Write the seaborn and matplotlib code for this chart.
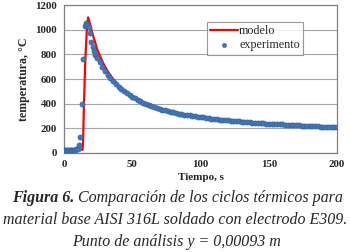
import matplotlib
matplotlib.use('Agg')
import matplotlib.pyplot as plt
import seaborn as sns

# model curve (red line)
model_time = [0, 6, 12, 13.6, 14.0, 14.6, 15.6, 16.6, 17.6, 18.4, 19, 20, 21, 22, 23, 24, 25, 26, 28, 30,
              33, 36, 40, 45, 50, 55, 60, 70, 80, 90, 100, 110, 120, 130, 140, 150, 160, 170, 180, 190, 200]
model_temp = [25, 25, 25, 27, 120, 400, 760, 980, 1100, 1070, 1045, 1000, 960, 925, 890, 850, 820, 795, 745, 700,
              645, 598, 545, 496, 460, 428, 402, 362, 333, 310, 292, 277, 265, 254, 245, 238, 231, 225, 219, 213, 208]

# experimental points (blue dots)
exp_time = [0, 1, 2, 3, 4, 5, 6, 7, 8, 9, 10, 11, 12, 13, 14, 15, 16, 17, 18, 19, 20, 21, 22, 23, 24,
            26, 28, 30, 32, 34, 36, 38, 40, 42, 44, 46, 48, 50, 52, 54, 56, 58, 60, 62, 64, 66, 68,
            70, 72, 74, 76, 78, 80, 82, 84, 86, 88, 90, 92, 94, 96, 98, 100, 102, 104, 106, 108,
            110, 112, 114, 116, 118, 120, 122, 124, 126, 128, 130, 132, 134, 136, 138, 140, 142, 144,
            146, 148, 150, 152, 154, 156, 158, 160, 162, 164, 166, 168, 170, 172, 174, 176, 178, 180,
            182, 184, 186, 188, 190, 192, 194, 196, 198, 200]
exp_temp = [28, 27, 27, 28, 27, 28, 28, 27, 28, 30, 35, 65, 130, 400, 760, 1030, 1052, 1038, 1020, 975, 900, 860, 825, 795, 770,
            735, 695, 665, 632, 605, 580, 557, 536, 517, 500, 484, 469, 455, 442, 430, 419, 408, 398, 389, 380, 372, 364,
            357, 351, 345, 340, 335, 330, 325, 320, 316, 312, 308, 304, 300, 297, 294, 291, 288, 285, 282, 279,
            276, 274, 271, 269, 267, 264, 262, 260, 258, 256, 254, 252, 250, 249, 247, 245, 244, 242,
            241, 239, 238, 236, 235, 234, 232, 231, 230, 228, 227, 226, 225, 223, 222, 221, 220, 219,
            218, 217, 215, 214, 213, 212, 211, 210, 209, 208]

x_ticks = [0, 50, 100, 150, 200]
y_ticks = [0, 200, 400, 600, 800, 1000, 1200]

sns.set_theme(style="white")
plt.rcParams['font.family'] = ['Liberation Serif', 'DejaVu Serif']

fig = plt.figure(figsize=(3.5, 2.52), dpi=100)
ax = fig.add_axes([0.183, 0.393, 0.78, 0.587])

sns.lineplot(x=model_time, y=model_temp, color='#FF0000', linewidth=1.6, sort=False,
             label='modelo', ax=ax, zorder=2)
sns.scatterplot(x=exp_time, y=exp_temp, color='#4277BA', s=14, edgecolor='#2E5F9C',
                linewidth=0.4, label='experimento', ax=ax, zorder=3)

ax.set_xlim(0, 200)
ax.set_ylim(0, 1200)
ax.set_xticks(x_ticks)
ax.set_yticks(y_ticks)
ax.yaxis.grid(True, color='#A6A6A6', linewidth=0.8)
ax.xaxis.grid(False)
ax.set_axisbelow(True)
for s in ax.spines.values():
    s.set_color('#808080')
    s.set_linewidth(0.9)
ax.tick_params(axis='both', length=0, pad=5, labelsize=7.8)
for lab in ax.get_xticklabels() + ax.get_yticklabels():
    lab.set_fontweight('bold')
ax.set_xlabel('Tiempo, s', fontsize=8, fontweight='bold', labelpad=3)
ax.set_ylabel('temperatura, °C', fontsize=8.6, fontweight='bold', labelpad=4)

leg = ax.legend(loc='upper right', bbox_to_anchor=(0.875, 0.885), borderaxespad=0,
                fontsize=8.7, frameon=True, fancybox=False, handlelength=2.3,
                handletextpad=0.1, borderpad=0.25, labelspacing=0.2, markerscale=0.8)
leg.get_frame().set_edgecolor('#808080')
leg.get_frame().set_linewidth(0.8)

# caption
W, H = 350.0, 252.0
cap_size = 11.5
fig.canvas.draw()
r = fig.canvas.get_renderer()
t1 = fig.text(12.0 / W, 1 - 198 / H, 'Figura 6.', fontsize=cap_size, style='italic',
              fontweight='bold', va='center', ha='left')
bb = t1.get_window_extent(renderer=r)
fig.text(bb.x1 / W, 1 - 198 / H, ' Comparación de los ciclos térmicos para', fontsize=cap_size,
         style='italic', va='center', ha='left')
fig.text(175 / W, 1 - 220 / H, 'material base AISI 316L soldado con electrodo E309.', fontsize=cap_size,
         style='italic', va='center', ha='center')
fig.text(176 / W, 1 - 242 / H, 'Punto de análisis y = 0,00093 m', fontsize=cap_size,
         style='italic', va='center', ha='center')

fig.savefig('out.png', dpi=100)
